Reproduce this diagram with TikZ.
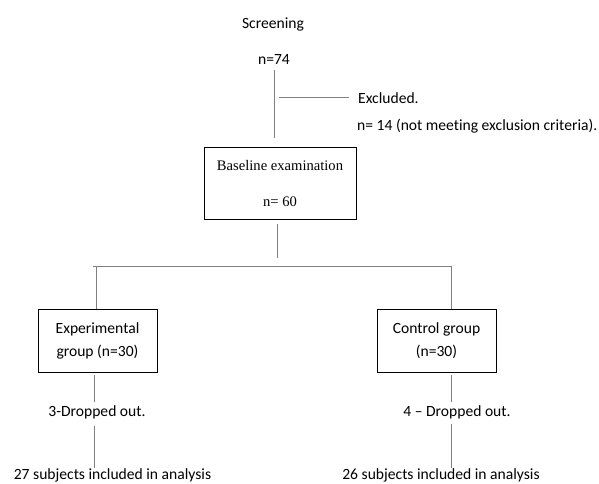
\documentclass[tikz,border=0pt]{standalone}
\usepackage{fontspec}
\setmainfont{Carlito}[Ligatures={TeX,NoCommon}]
\newfontfamily\timesfont{Liberation Serif}
\usetikzlibrary{positioning}

\tikzset{
  lbl/.style={font=\fontsize{15.6}{23}\selectfont, inner sep=0pt},
  grpbox/.style={lbl, draw, line width=1pt, minimum width=119pt,
    minimum height=63pt, align=center},
  conn/.style={draw=gray, line width=0.9pt}
}

\begin{document}
\begin{tikzpicture}[x=1pt,y=-1pt]
  \useasboundingbox (0,0) rectangle (599,483);

  %% screening and exclusion
  \node[lbl, anchor=base] (screen) at (273,28) {Screening};
  \node[lbl, anchor=base] (n74) at (274,64) {n=74};
  \node[lbl, anchor=base west] (excl) at (358,103) {Excluded.};
  \node[lbl, anchor=base west] (n14) at (357,130)
    {n= 14 (not meeting exclusion criteria).};

  % baseline box
  \node[draw, line width=1pt, inner sep=0pt, minimum width=152pt,
    minimum height=72pt, align=center,
    font=\timesfont\fontsize{14.6}{36}\selectfont] (base) at (280,183)
    {Baseline examination\\n= 60};

  \draw[conn, shorten <=6pt, shorten >=9pt] (n74.south) -- (n74.south |- base.north);
  \draw[conn] ([xshift=5pt]n74.south |- excl.west) -- ([xshift=-9pt]excl.west);

  %% groups
  \node[grpbox] (exp) at (97.5,340.5) {Experimental\\group (n=30)};
  \node[grpbox] (ctrl) at (436.5,340.5) {Control group\\(n=30)};

  \coordinate (split) at (277,266);
  \coordinate (brL) at (93,266);
  \coordinate (brR) at (451,266);
  \coordinate (colL) at (94.5,0);
  \coordinate (colR) at (451,0);

  \draw[conn, shorten <=4pt, shorten >=8pt] (split |- base.south) -- (split);
  \draw[conn] (brL) -- (brR);
  \draw[conn] (brL -| exp.north) ++(-1.5,0) -- ([xshift=-1.5pt]exp.north);
  \draw[conn] (brR) -- (brR |- ctrl.north);

  %% drop outs and analysis
  \node[lbl, anchor=base] (dropL) at (97,416) {3-Dropped out.};
  \node[lbl, anchor=base] (dropR) at (457,416) {4 \textendash{} Dropped out.};
  \node[lbl, anchor=base] (anaL) at (112.5,479) {27 subjects included in analysis};
  \node[lbl, anchor=base] (anaR) at (441,479) {26 subjects included in analysis};

  \draw[conn, shorten <=2pt, shorten >=3pt] (colL |- exp.south) -- (colL |- dropL.north);
  \draw[conn, shorten <=7pt] (colL |- dropL.south) -- (colL |- anaL.north);
  \draw[conn, shorten <=2pt, shorten >=3pt] (colR |- ctrl.south) -- (colR |- dropR.north);
  \draw[conn, shorten <=5pt] (colR |- dropR.south) -- (colR |- anaR.north);
\end{tikzpicture}
\end{document}
